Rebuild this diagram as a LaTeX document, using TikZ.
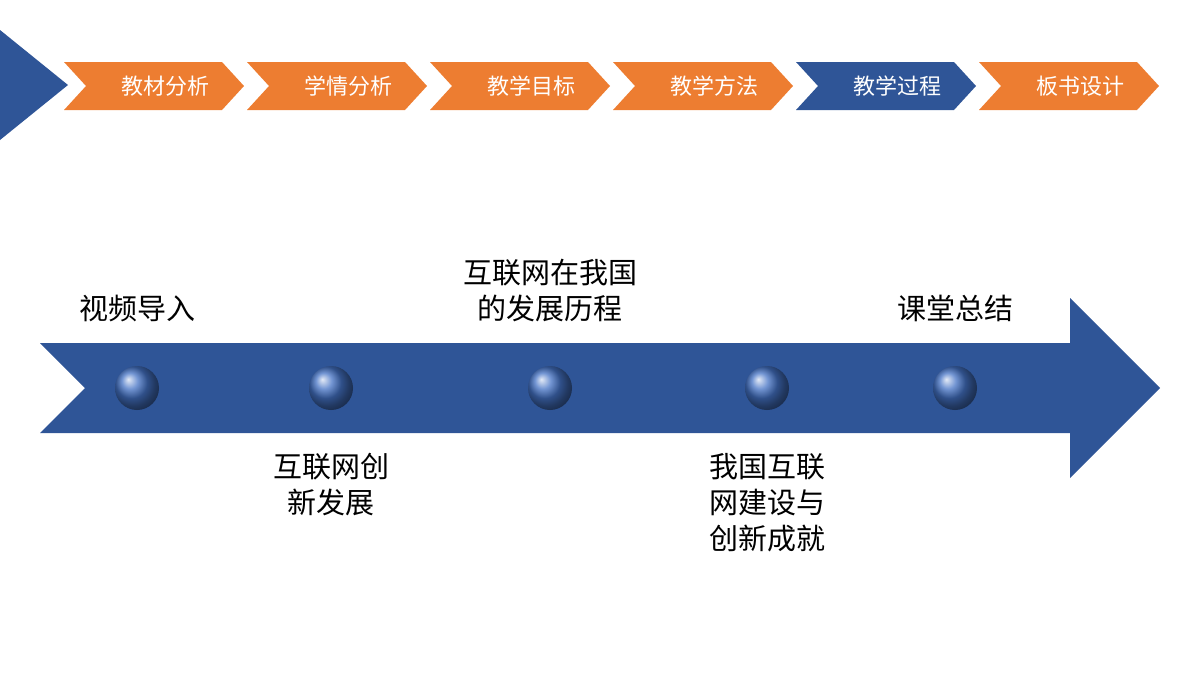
\documentclass[tikz,border=0pt]{standalone}
\usepackage{fontspec}
\setmainfont{Noto Sans CJK SC}
\definecolor{navy}{HTML}{2F5597}
\definecolor{tabOrange}{HTML}{ED7D31}
\definecolor{dotBlue}{HTML}{4472C4}
\tikzset{
  tab/.style={font=\fontsize{22}{26}\selectfont, text=white},
  stage/.style={font=\fontsize{29}{36}\selectfont, align=center},
  dot/.style={circle, minimum size=44pt, inner sep=0pt, ball color=dotBlue, draw=none}
}
\begin{document}
\begin{tikzpicture}[x=1pt,y=-1pt]
\useasboundingbox (0,0) rectangle (1200,675);
% corner marker
\fill[navy] (0,30) -- (68,85) -- (0,140) -- cycle;
% navigation tabs
\foreach \t [count=\i from 0] in {教材分析,学情分析,教学目标,教学方法,教学过程,板书设计}{
  \pgfmathsetmacro{\xa}{64+183*\i}
  \ifnum\i=4 \def\tc{navy}\else\def\tc{tabOrange}\fi
  \fill[\tc] (\xa,62) -- ++(158,0) -- ++(22,24) -- ++(-22,24) -- (\xa,110) -- ++(22,-24) -- cycle;
  \node[tab] (tab\i) at (\xa+101,86) {\t};
}
% main arrow
\fill[navy] (40,343) -- (1070,343) -- (1070,298) -- (1160,388) -- (1070,478)
  -- (1070,433) -- (40,433) -- (85,388) -- cycle;
% stages
\node[dot] (d1) at (137,388) {};
\node[dot] (d2) at (331,388) {};
\node[dot] (d3) at (550,388) {};
\node[dot] (d4) at (767,388) {};
\node[dot] (d5) at (955,388) {};
\node[stage, anchor=south] (s1) at (137,325) {视频导入};
\node[stage, anchor=north] (s2) at (331,450) {互联网创\\新发展};
\node[stage, anchor=south] (s3) at (550,325) {互联网在我国\\的发展历程};
\node[stage, anchor=north] (s4) at (767,450) {我国互联\\网建设与\\创新成就};
\node[stage, anchor=south] (s5) at (955,325) {课堂总结};
\end{tikzpicture}
\end{document}
